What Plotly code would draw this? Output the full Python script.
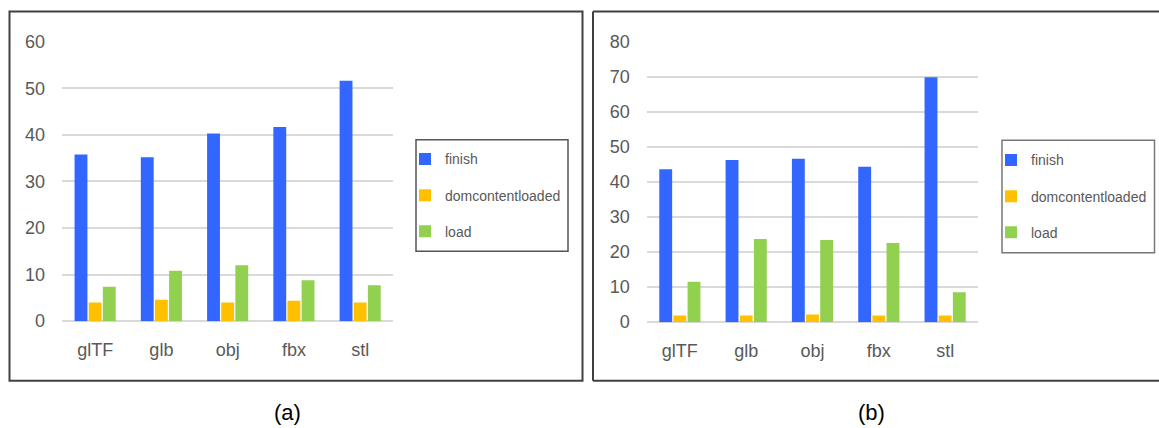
import plotly.graph_objects as go

# Page-load timings per 3D model format
formats = ["glTF", "glb", "obj", "fbx", "stl"]

a_finish = [35.8, 35.2, 40.3, 41.7, 51.6]
a_domcontentloaded = [4.0, 4.6, 4.0, 4.4, 4.0]
a_load = [7.4, 10.8, 12.0, 8.8, 7.7]

b_finish = [43.6, 46.2, 46.6, 44.3, 69.8]
b_domcontentloaded = [1.9, 1.9, 2.2, 1.9, 1.9]
b_load = [11.5, 23.7, 23.4, 22.6, 8.5]

a_ticks = [0, 10, 20, 30, 40, 50, 60]
b_ticks = [0, 10, 20, 30, 40, 50, 60, 70, 80]

series_names = ["finish", "domcontentloaded", "load"]
colors = ["#3366FF", "#FFC000", "#92D050"]

W, H = 1159, 428
FONT = "Liberation Sans, Arial, sans-serif"
TICK_COLOR = "#595959"
GRID = "#D9D9D9"


def px_x(v):
    return v / W


def px_y(v):
    # vertical layout band runs from y=9 to y=419
    return 1 - (v - 9) / 410


fig = go.Figure()

panels = [
    ("x", "y", "legend", [a_finish, a_domcontentloaded, a_load]),
    ("x2", "y2", "legend2", [b_finish, b_domcontentloaded, b_load]),
]
for xa, ya, leg, values in panels:
    for name, color, vals in zip(series_names, colors, values):
        fig.add_trace(go.Bar(
            x=formats, y=vals, name=name,
            marker=dict(color=color, line=dict(width=0)),
            xaxis=xa, yaxis=ya, legend=leg, legendgroup=leg + name,
        ))

axis_font = dict(family=FONT, size=18, color=TICK_COLOR)

common_x = dict(
    showgrid=False, showline=False, zeroline=False,
    ticks="outside", ticklen=0, tickfont=axis_font,
    ticklabelstandoff=12,
)
common_y = dict(
    showgrid=True, gridcolor=GRID, gridwidth=1.5,
    zeroline=True, zerolinecolor=GRID, zerolinewidth=1.5,
    showline=False, ticks="", tickfont=axis_font,
    ticklabelstandoff=16,
)

legend_style = dict(
    orientation="v", bgcolor="rgba(0,0,0,0)", borderwidth=0,
    font=dict(family=FONT, size=14, color=TICK_COLOR),
    tracegroupgap=15, itemwidth=30, xanchor="left", yanchor="top",
    traceorder="grouped",
)

fig.update_layout(
    width=W, height=H,
    margin=dict(l=0, r=0, t=0, b=0),
    paper_bgcolor="white", plot_bgcolor="white",
    barmode="group", bargap=0.36, bargroupgap=0.09,
    font=dict(family=FONT),
    xaxis=dict(domain=[px_x(62), px_x(393.3)], anchor="y", **common_x),
    yaxis=dict(domain=[px_y(321.7), px_y(40.9)], anchor="x",
               range=[0, 60], tickvals=a_ticks, **common_y),
    xaxis2=dict(domain=[px_x(646.7), px_x(978.3)], anchor="y2", **common_x),
    yaxis2=dict(domain=[px_y(322.7), px_y(40.7)], anchor="x2",
                range=[0, 80], tickvals=b_ticks, **common_y),
    legend=dict(x=px_x(405), y=px_y(143), **legend_style),
    legend2=dict(x=px_x(991), y=px_y(144), **legend_style),
    showlegend=True,
)

# Panel frames (the right frame runs off the page edge) and legend boxes
frame = dict(color="#404040", width=2)
shapes = [
    dict(type="rect", xref="paper", yref="paper",
         x0=px_x(9.5), x1=px_x(582.5), y0=px_y(381.5), y1=px_y(10.5),
         line=frame, fillcolor="rgba(0,0,0,0)"),
    dict(type="line", xref="paper", yref="paper",
         x0=px_x(593), x1=1, y0=px_y(10.5), y1=px_y(10.5), line=frame),
    dict(type="line", xref="paper", yref="paper",
         x0=px_x(593), x1=px_x(593), y0=px_y(10.5), y1=px_y(381.5), line=frame),
    dict(type="line", xref="paper", yref="paper",
         x0=px_x(593), x1=1, y0=px_y(381.5), y1=px_y(381.5), line=frame),
    dict(type="rect", xref="paper", yref="paper",
         x0=px_x(416), x1=px_x(568), y0=px_y(251.5), y1=px_y(139.5),
         line=dict(color="#555555", width=1.5), fillcolor="rgba(0,0,0,0)"),
    dict(type="rect", xref="paper", yref="paper",
         x0=px_x(1002), x1=px_x(1154.5), y0=px_y(253), y1=px_y(140),
         line=dict(color="#777777", width=1.5), fillcolor="rgba(0,0,0,0)"),
]
fig.update_layout(shapes=shapes)

# Panel captions
for label, cx in [("(a)", 287), ("(b)", 871)]:
    fig.add_annotation(
        text=label, xref="paper", yref="paper",
        x=px_x(cx), y=px_y(413), xanchor="center", yanchor="middle",
        showarrow=False, font=dict(family=FONT, size=22, color="#000000"),
    )

fig.write_html("out.html")
